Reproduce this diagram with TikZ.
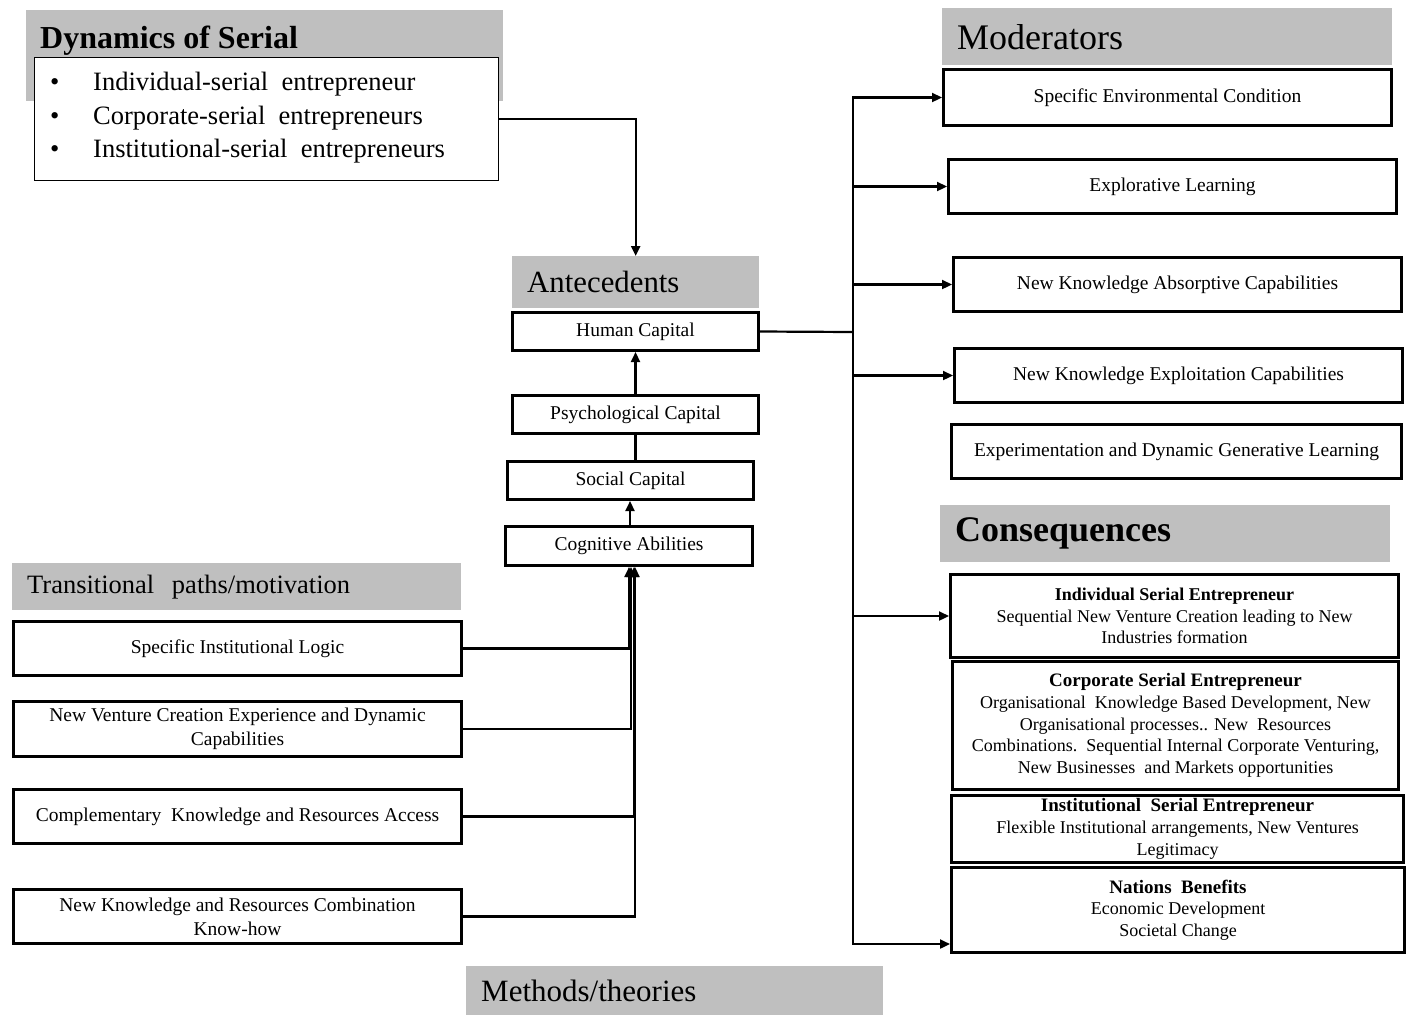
\documentclass[tikz,border=0pt]{standalone}
\usepackage{fontspec}
\setmainfont{Liberation Serif}
\usetikzlibrary{arrows.meta,calc}
\definecolor{hdrgray}{RGB}{191,191,191}
\begin{document}
\begin{tikzpicture}[x=1pt,y=-1pt,
  hdr/.style={fill=hdrgray, draw=none, inner xsep=15pt, inner ysep=0pt, align=left, anchor=north west},
  box/.style={draw, line width=3pt, fill=white, align=center, anchor=north west, inner sep=2pt, font=\fontsize{19.5}{24}\selectfont},
  cbox/.style={box, font=\fontsize{18}{21.7}\selectfont},
  conn/.style={line width=2.2pt, -{Triangle[length=10pt,width=9pt]}},
  plain/.style={line width=2.2pt},
  bul/.style={anchor=base west, inner sep=0pt, font=\fontsize{26.5}{33.5}\selectfont}]
\useasboundingbox (0,0) rectangle (1412,1015);
\fill[white] (0,0) rectangle (1412,1015);

% Dynamics of Serial
\node[fill=hdrgray, anchor=north west, minimum width=477pt, minimum height=91pt, inner sep=0pt] (hdyn) at (26,10) {};
\node[anchor=base west, inner sep=0pt, font=\fontsize{32}{36}\selectfont\bfseries] (tdyn) at (40,48) {Dynamics of Serial};
\node[draw, line width=1.2pt, fill=white, anchor=north west, minimum width=464pt, minimum height=123pt, inner sep=0pt] (dynbox) at (34,57) {};
\node[bul] (dl1) at (50,90) {\makebox[43pt][l]{\textbullet}Individual-serial\ \ entrepreneur};
\node[bul] (dl2) at (50,124) {\makebox[43pt][l]{\textbullet}Corporate-serial\ \ entrepreneurs};
\node[bul] (dl3) at (50,157) {\makebox[43pt][l]{\textbullet}Institutional-serial\ \ entrepreneurs};

% Antecedents
\node[hdr, text width=217pt, minimum height=52pt, font=\fontsize{30.8}{36}\selectfont] (hante) at (512,256) {Antecedents};
\node[box, minimum width=246pt, minimum height=38pt] (hc) at (511,311) {Human Capital};
\node[box, minimum width=246pt, minimum height=38pt] (psy) at (511,394) {Psychological Capital};
\node[box, minimum width=246pt, minimum height=38pt] (soc) at (506,460) {Social Capital};
\node[box, minimum width=247pt, minimum height=39pt] (cog) at (504,525) {Cognitive Abilities};

% Transitional paths
\node[hdr, text width=419pt, minimum height=47pt, font=\fontsize{26.5}{32}\selectfont] (htrans) at (12,563) {Transitional\ \ paths/motivation};
\node[box, minimum width=448pt, minimum height=54pt] (t1) at (12,620) {Specific Institutional Logic};
\node[box, minimum width=448pt, minimum height=55pt] (t2) at (12,700) {New Venture Creation Experience and Dynamic\\Capabilities};
\node[box, minimum width=448pt, minimum height=54pt] (t3) at (12,788) {Complementary\ \ Knowledge and Resources Access};
\node[box, minimum width=448pt, minimum height=54pt] (t4) at (12,888) {New Knowledge and Resources Combination\\Know-how};

% Moderators
\node[hdr, text width=420pt, minimum height=57pt, font=\fontsize{36}{40}\selectfont] (hmod) at (942,8) {Moderators};
\node[box, minimum width=448pt, minimum height=56pt] (m1) at (942,68) {Specific Environmental Condition};
\node[box, minimum width=448pt, minimum height=54pt] (m2) at (947,158) {Explorative Learning};
\node[box, minimum width=448pt, minimum height=54pt] (m3) at (952,256) {New Knowledge Absorptive Capabilities};
\node[box, minimum width=448pt, minimum height=54pt] (m4) at (953,347) {New Knowledge Exploitation Capabilities};
\node[box, minimum width=450pt, minimum height=54pt] (m5) at (950,423) {Experimentation and Dynamic Generative Learning};

% Consequences
\node[hdr, text width=420pt, minimum height=57pt, font=\fontsize{36}{40}\selectfont\bfseries] (hcons) at (940,505) {Consequences};
\node[cbox, minimum width=448pt, minimum height=83pt] (c1) at (949,573) {{\fontsize{18}{21.7}\selectfont\bfseries Individual Serial Entrepreneur}\\Sequential New Venture Creation leading to New\\Industries formation};
\node[cbox, minimum width=446pt, minimum height=128pt] (c2) at (951,660) {{\fontsize{19}{21.7}\selectfont\bfseries Corporate Serial Entrepreneur}\\Organisational\ \ Knowledge Based Development, New\\Organisational processes.. New\ \ Resources\\Combinations.\ \ Sequential Internal Corporate Venturing,\\New Businesses\ \ and Markets opportunities};
\node[cbox, minimum width=452pt, minimum height=67pt] (c3) at (950,794) {{\fontsize{19}{21.7}\selectfont\bfseries Institutional\ \ Serial Entrepreneur}\\Flexible Institutional arrangements, New Ventures\\Legitimacy};
\node[cbox, minimum width=453pt, minimum height=85pt] (c4) at (950,866) {{\fontsize{19}{21.7}\selectfont\bfseries Nations\ \ Benefits}\\Economic Development\\Societal Change};

% Methods
\node[hdr, text width=387pt, minimum height=49pt, font=\fontsize{31}{36}\selectfont] (hmeth) at (466,966) {Methods/theories};

% Connectors
\coordinate (trunk) at (853,332);
\draw[conn] (dynbox.east) -| (hante.north);
\draw[conn] (psy.north) -- (hc.south);
\draw[plain] (psy.south) -- (psy.south |- soc.north);
\draw[conn] ([xshift=1pt]cog.north) -- ([xshift=1pt]cog.north |- soc.south);
\draw[conn] (t1.east) -| ([xshift=0pt]cog.south);
\draw[conn] (t2.east) -| ([xshift=2pt]cog.south);
\draw[conn] (t3.east) -| ([xshift=5pt]cog.south);
\draw[conn] (t4.east) -| ([xshift=6pt]cog.south);

\draw[plain] (hc.east) -- (trunk);
\draw[conn] (trunk) |- (m1.west);
\draw[conn] (trunk) |- (m2.west);
\draw[conn] (trunk) |- (m3.west);
\draw[conn] (trunk) |- (m4.west);
\draw[conn] (trunk) |- (c1.west);
\draw[conn] (trunk) |- ([yshift=10pt]c4.south west);
\end{tikzpicture}
\end{document}
